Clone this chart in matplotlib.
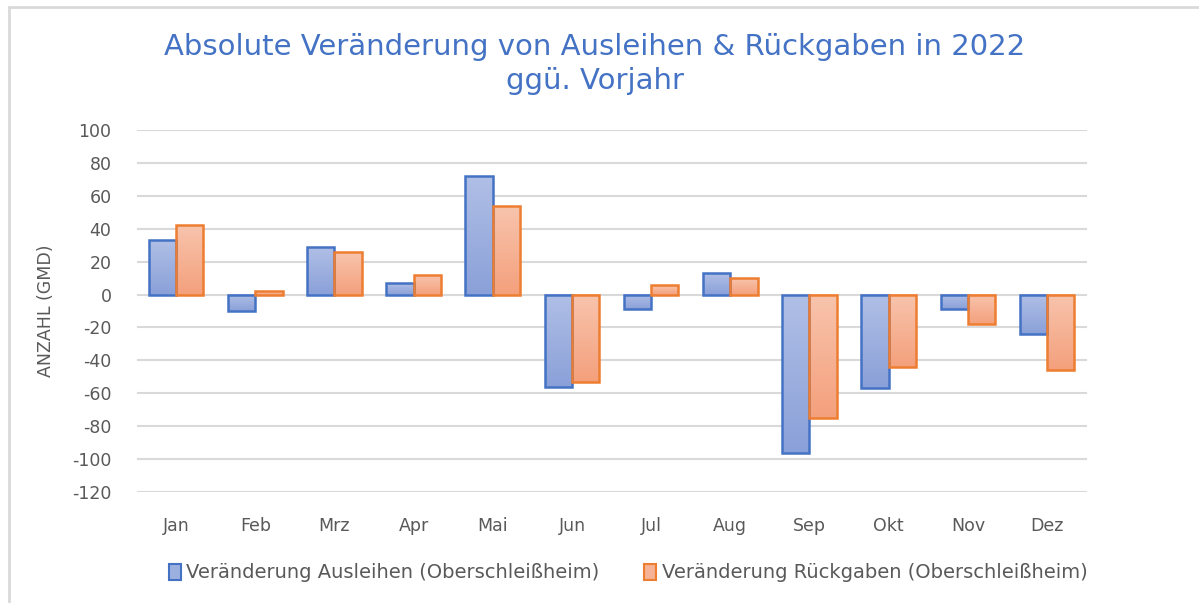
import matplotlib.pyplot as plt
import numpy as np
from matplotlib.colors import LinearSegmentedColormap
from matplotlib.patches import Rectangle

plt.rcParams['axes.unicode_minus'] = False

months = ['Jan', 'Feb', 'Mrz', 'Apr', 'Mai', 'Jun', 'Jul', 'Aug', 'Sep', 'Okt', 'Nov', 'Dez']
ausleihen = [33, -10, 29, 7, 72, -56, -9, 13, -96, -57, -9, -24]
rueckgaben = [42, 2, 26, 12, 54, -53, 6, 10, -75, -44, -18, -46]

label_a = 'Veränderung Ausleihen (Oberschleißheim)'
label_r = 'Veränderung Rückgaben (Oberschleißheim)'

text_gray = '#595959'
blue_edge = '#4472C4'
orange_edge = '#ED7D31'
cmap_blue = LinearSegmentedColormap.from_list('b', ['#8aa0d8', '#b0bfe6'])
cmap_orange = LinearSegmentedColormap.from_list('o', ['#f4a07c', '#f8c4ad'])

fig = plt.figure(figsize=(11.99, 6.03), dpi=100)
ax = fig.add_axes([136.5 / 1199, 1 - 492 / 603, (1086.6 - 136.5) / 1199, 362 / 603])

x = np.arange(len(months))
w = 0.345
grad = np.linspace(0, 1, 100).reshape(-1, 1)


def draw_bars(xs, vals, cmap, edge, label):
    bars = ax.bar(xs, vals, w, facecolor='none', edgecolor=edge, linewidth=1.8,
                  zorder=3, label=label)
    for b in bars:
        x0, y0 = b.get_x(), b.get_y()
        bw, bh = b.get_width(), b.get_height()
        y_lo, y_hi = min(y0, y0 + bh), max(y0, y0 + bh)
        ax.imshow(grad, cmap=cmap, origin='lower', aspect='auto',
                  extent=(x0, x0 + bw, y_lo, y_hi), zorder=2)
    return bars


draw_bars(x - w / 2, ausleihen, cmap_blue, blue_edge, label_a)
draw_bars(x + w / 2, rueckgaben, cmap_orange, orange_edge, label_r)

ax.set_xlim(-0.5, len(months) - 0.5)
ax.set_ylim(-120, 100)
ax.set_yticks(np.arange(-120, 101, 20))
ax.set_xticks(x)
ax.set_xticklabels(months)
ax.yaxis.grid(True, color='#d9d9d9', linewidth=1.5, zorder=0)
ax.set_axisbelow(True)
for s in ax.spines.values():
    s.set_visible(False)
ax.tick_params(length=0, colors=text_gray, labelsize=12.5)
ax.tick_params(axis='x', pad=18)
ax.tick_params(axis='y', pad=18)
ax.set_ylabel('ANZAHL (GMD)', color=text_gray, fontsize=12.5, labelpad=12)

fig.text(0.496, 0.894, 'Absolute Veränderung von Ausleihen & Rückgaben in 2022\nggü. Vorjahr',
         ha='center', va='center', color='#4472C4', fontsize=21,
         family='DejaVu Sans', linespacing=1.25)

handles = [Rectangle((0, 0), 1, 1, facecolor='#9cb0e0', edgecolor=blue_edge, linewidth=1.5),
           Rectangle((0, 0), 1, 1, facecolor='#f6b294', edgecolor=orange_edge, linewidth=1.5)]
leg = fig.legend(handles, [label_a, label_r], loc='center', bbox_to_anchor=(0.524, 0.05),
                 ncol=2, frameon=False, fontsize=14, handlelength=0.6, handleheight=0.9,
                 handletextpad=0.3, columnspacing=2.3)
for t in leg.get_texts():
    t.set_color(text_gray)

fig.patches.append(Rectangle((9 / 1199, -0.01), 1.02, 1 - 7 / 603 + 0.01,
                             transform=fig.transFigure, fill=False,
                             edgecolor='#d9d9d9', linewidth=2))

fig.savefig('out.png', dpi=100)
